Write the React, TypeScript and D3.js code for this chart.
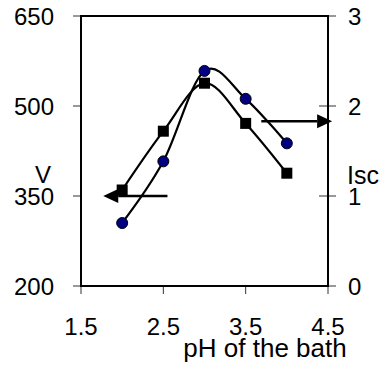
import React from "react";
import * as d3 from "d3";

// pH of the bath vs open-circuit voltage (V, left) and short-circuit current (Isc, right)
const phValues = [2, 2.5, 3, 3.5, 4];
const voltage = [360, 458, 538, 471, 388];
const iscValues = [0.7, 1.385, 2.39, 2.08, 1.585];

const xTicks = [1.5, 2.5, 3.5, 4.5];
const vTicks = [200, 350, 500, 650];
const iscTicks = [0, 1, 2, 3];

// arrows pointing each curve to its axis
const vArrow = { from: 2.55, to: 1.77, value: 350 };
const iscArrow = { from: 3.69, to: 4.55, value: 1.83 };

const W = 382;
const H = 372;
const left = 81;
const right = 328;
const top = 16;
const bottom = 286;
const font = "'Liberation Sans', Arial, sans-serif";

function Arrow({ x1, x2, y }: { x1: number; x2: number; y: number }) {
  const dir = x2 > x1 ? 1 : -1;
  const headLen = 15;
  const half = 7;
  return (
    <g>
      <line x1={x1} y1={y} x2={x2 - dir * headLen} y2={y} stroke="#000" strokeWidth={2.6} />
      <path
        d={`M${x2},${y}L${x2 - dir * headLen},${y - half}L${x2 - dir * headLen},${y + half}Z`}
        fill="#000"
      />
    </g>
  );
}

export default function App() {
  const x = d3.scaleLinear().domain([1.5, 4.5]).range([left, right]);
  const yV = d3.scaleLinear().domain([200, 650]).range([bottom, top]);
  const yI = d3.scaleLinear().domain([0, 3]).range([bottom, top]);

  const curve = d3.curveCardinal.tension(0);
  const vLine = d3
    .line<number>()
    .x((_, i) => x(phValues[i]))
    .y((d) => yV(d))
    .curve(curve);
  const iLine = d3
    .line<number>()
    .x((_, i) => x(phValues[i]))
    .y((d) => yI(d))
    .curve(curve);

  const sq = 11;

  return (
    <svg
      width={W}
      height={H}
      style={{ position: "absolute", left: 0, top: 0, background: "#fff" }}
      fontFamily={font}
    >
      {/* ticks */}
      {vTicks.map((t) => (
        <line key={"vt" + t} x1={left - 8} x2={left} y1={yV(t)} y2={yV(t)} stroke="#333" strokeWidth={1} />
      ))}
      {iscTicks.map((t) => (
        <line key={"it" + t} x1={right - 9} x2={right + 8} y1={yI(t)} y2={yI(t)} stroke="#333" strokeWidth={1} />
      ))}
      {xTicks.map((t) => (
        <line key={"xt" + t} x1={x(t)} x2={x(t)} y1={bottom} y2={bottom + 8} stroke="#333" strokeWidth={1} />
      ))}

      {/* frame */}
      <rect x={left} y={top} width={right - left} height={bottom - top} fill="none" stroke="#000" strokeWidth={2} />

      {/* tick labels */}
      {vTicks.map((t) => (
        <text key={"vl" + t} x={left - 27} y={yV(t)} dy="0.36em" textAnchor="end" fontSize={24}>
          {t}
        </text>
      ))}
      {iscTicks.map((t) => (
        <text key={"il" + t} x={348} y={yI(t)} dy="0.36em" textAnchor="start" fontSize={24}>
          {t}
        </text>
      ))}
      {xTicks.map((t) => (
        <text key={"xl" + t} x={x(t)} y={335} textAnchor="middle" fontSize={24}>
          {t}
        </text>
      ))}

      {/* axis titles */}
      <text x={43} y={183} textAnchor="middle" fontSize={24}>V</text>
      <text x={347} y={184} textAnchor="start" fontSize={25}>Isc</text>
      <text x={265} y={357} textAnchor="middle" fontSize={26}>pH of the bath</text>

      {/* series */}
      <path d={vLine(voltage) ?? ""} fill="none" stroke="#000" strokeWidth={2.2} />
      <path d={iLine(iscValues) ?? ""} fill="none" stroke="#000" strokeWidth={2.2} />

      {voltage.map((v, i) => (
        <rect key={"sq" + i} x={x(phValues[i]) - sq / 2} y={yV(v) - sq / 2} width={sq} height={sq} fill="#000" />
      ))}
      {iscValues.map((v, i) => (
        <circle key={"ci" + i} cx={x(phValues[i])} cy={yI(v)} r={5.5} fill="#000080" stroke="#000" strokeWidth={1} />
      ))}

      <Arrow x1={x(vArrow.from)} x2={x(vArrow.to)} y={yV(vArrow.value)} />
      <Arrow x1={x(iscArrow.from)} x2={x(iscArrow.to)} y={yI(iscArrow.value)} />
    </svg>
  );
}
